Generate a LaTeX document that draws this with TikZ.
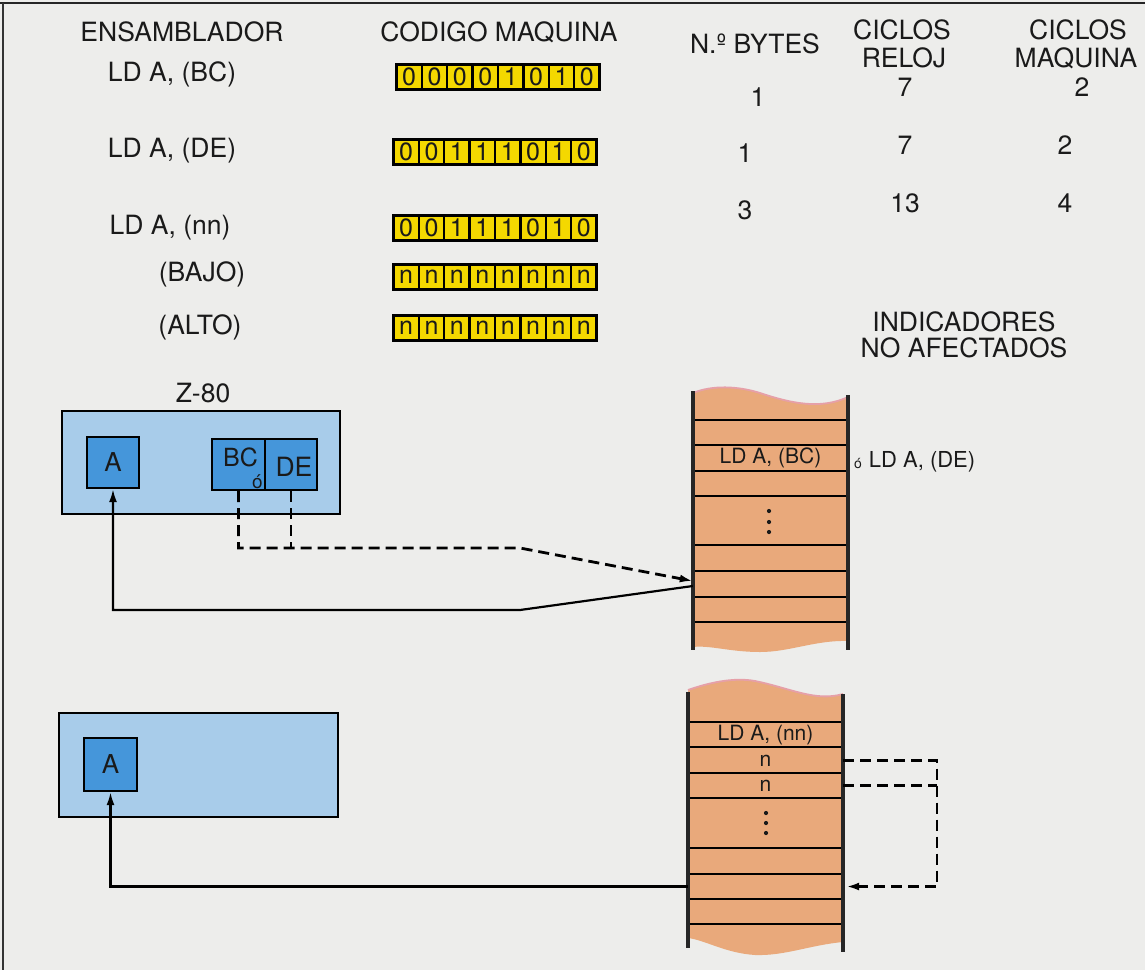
\documentclass[tikz,border=0pt]{standalone}
\usepackage{fontspec}
\setmainfont{TeX Gyre Heros}
\usetikzlibrary{arrows.meta}
\definecolor{pagebg}{HTML}{EDEDEB}
\definecolor{cpublue}{HTML}{A8CCEA}
\definecolor{regblue}{HTML}{4596DA}
\definecolor{memfill}{HTML}{E9A97B}
\definecolor{bityel}{HTML}{F4D800}
\definecolor{pinkedge}{HTML}{E6A0A8}
\definecolor{ink}{HTML}{1A1A1A}
\newcommand\bitrow[4]{%
  \node[bytebox] (#1) at (#2,#3) {};
  \foreach \b [count=\i] in {#4}
    \node[bitcell] (#1-\i) at ({#2-103+14.1+(\i-1)*25.4},#3) {\b};
}
\begin{document}
\begin{tikzpicture}[x=1pt,y=-1pt,
  lbl/.style={font=\fontsize{26.5}{30}\selectfont, inner sep=0, text=ink},
  memtxt/.style={font=\fontsize{21}{25}\selectfont, inner sep=0, text=ink},
  bytebox/.style={rectangle, fill=black, minimum width=206, minimum height=28, inner sep=0},
  bitcell/.style={rectangle, fill=bityel, minimum width=23, minimum height=22.5, inner sep=0, font=\fontsize{25}{26}\selectfont, text=ink},
  cpubox/.style={rectangle, draw=black, line width=2.2, fill=cpublue, inner sep=0},
  regbox/.style={rectangle, draw=black, line width=2.2, fill=regblue, inner sep=0, font=\fontsize{26}{30}\selectfont, text=ink},
  memcell/.style={rectangle, minimum width=155, minimum height=24, inner sep=0, font=\fontsize{21}{25}\selectfont, text=ink},
  memline/.style={line width=2.6, black},
  memside/.style={line width=3.4, black!85},
  conn/.style={line width=2.2, black},
  dconn/.style={line width=2.8, black, dash pattern=on 11pt off 6pt},
  tip/.style={-{Latex[length=13pt,width=8pt]}},
]
\fill[pagebg] (0,0) rectangle (1145,970);
\useasboundingbox (0,0) rectangle (1145,970);
\draw[line width=1.8, black!85] (0,3) -- (1145,3);
\draw[line width=1.5, black!80] (3,3) -- (3,970);

% headers
\node[lbl] (hens) at (182,32) {ENSAMBLADOR};
\node[lbl] (hcod) at (499,32) {CODIGO MAQUINA};
\node[lbl] (hbyt) at (755,44) {N.º BYTES};
\node[lbl] (hcr1) at (902,30) {CICLOS};
\node[lbl] (hcr2) at (904,58) {RELOJ};
\node[lbl] (hcm1) at (1078,30) {CICLOS};
\node[lbl] (hcm2) at (1076,58) {MAQUINA};

% rows
\node[lbl] (r1l) at (172,74) {LD A, (BC)};
\node[lbl] (r2l) at (172,151) {LD A, (DE)};
\node[lbl] (r3l) at (170,228) {LD A, (nn)};
\node[lbl] (r4l) at (202,274) {(BAJO)};
\node[lbl] (r5l) at (200,327) {(ALTO)};

\bitrow{b1}{498}{77}{0,0,0,0,1,0,1,0}
\bitrow{b2}{495}{152}{0,0,1,1,1,0,1,0}
\bitrow{b3}{495}{228}{0,0,1,1,1,0,1,0}
\bitrow{b4}{495}{277}{n,n,n,n,n,n,n,n}
\bitrow{b5}{495}{328}{n,n,n,n,n,n,n,n}

\node[lbl] (v11) at (758,97) {1};
\node[lbl] (v12) at (905,87) {7};
\node[lbl] (v13) at (1082,87) {2};
\node[lbl] (v21) at (745,153) {1};
\node[lbl] (v22) at (905,145) {7};
\node[lbl] (v23) at (1065,145) {2};
\node[lbl] (v31) at (745,210) {3};
\node[lbl] (v32) at (905,203) {13};
\node[lbl] (v33) at (1065,203) {4};

\node[lbl] (ind1) at (964,322) {INDICADORES};
\node[lbl] (ind2) at (964,348) {NO AFECTADOS};

% CPU 1
\node[lbl] (z80) at (203,393) {Z-80};
\node[cpubox, minimum width=278, minimum height=103] (cpu1) at (201,462.5) {};
\node[regbox, minimum width=52, minimum height=51] (A1) at (113,462.5) {A};
\node[regbox, minimum width=53, minimum height=51] (BC) at (238.5,464.5) {};
\node[regbox, minimum width=52, minimum height=51] (DE) at (291,464.5) {};
\node[lbl, font=\fontsize{25}{28}\selectfont] (bct) at (240.5,457) {BC};
\node[lbl, font=\fontsize{19}{22}\selectfont] (bco) at (257.5,482) {ó};
\node[lbl] (det) at (294,467) {DE};

% CPU 2
\node[cpubox, minimum width=279, minimum height=104] (cpu2) at (198.5,765) {};
\node[regbox, minimum width=53, minimum height=53] (A2) at (110.5,764.5) {A};

% memory 1
\fill[memfill] (693,393) .. controls (712,385) and (738,386) .. (760,393)
  .. controls (790,403) and (820,410) .. (848,397) -- (848,641)
  .. controls (815,640) and (790,652) .. (760,652)
  .. controls (730,652) and (710,645) .. (693,647) -- cycle;
\draw[pinkedge, line width=1.8] (693,393) .. controls (712,385) and (738,386) .. (760,393)
  .. controls (790,403) and (820,410) .. (848,397);
\foreach \yy in {420,445,471,496,545,571,597,622}
  \draw[memline] (693,\yy) -- (848,\yy);
\draw[memside] (693,391) -- (693,650);
\draw[memside] (848,395) -- (848,650);
\node[memcell] (m1bc) at (770.5,458) {LD A, (BC)};
\node[memcell] (m1in) at (770.5,584) {};
\foreach \yy in {511,522,532} \fill[ink] (769,\yy) circle (2.1);
\node[lbl, font=\fontsize{14}{16}\selectfont] (m1or) at (858,463) {ó};
\node[memtxt, font=\fontsize{22}{25}\selectfont] (m1de) at (922,462) {LD A, (DE)};

% memory 2
\fill[memfill] (688,690) .. controls (708,683) and (733,677) .. (755,681)
  .. controls (790,688) and (815,702) .. (843,694) -- (843,942)
  .. controls (810,945) and (785,956) .. (755,955)
  .. controls (725,953) and (705,940) .. (688,938) -- cycle;
\draw[pinkedge, line width=1.8] (688,690) .. controls (708,683) and (733,677) .. (755,681)
  .. controls (790,688) and (815,702) .. (843,694);
\foreach \yy in {722,747,773,798,848,874,899,924}
  \draw[memline] (688,\yy) -- (843,\yy);
\draw[memside] (688,692) -- (688,948);
\draw[memside] (843,694) -- (843,952);
\node[memcell] (m2op) at (765.5,735) {LD A, (nn)};
\node[memcell] (m2lo) at (765.5,760.5) {n};
\node[memcell] (m2hi) at (765.5,785.5) {n};
\node[memcell] (m2dat) at (765.5,886.5) {};
\foreach \yy in {813,823,833} \fill[ink] (766,\yy) circle (2.1);

% connectors, CPU 1
\coordinate (dj) at (520,548);
\coordinate (sj) at (520,610);
\draw[dconn, tip] (BC.south) |- (dj) -- ([yshift=3pt]m1in.west);
\draw[dconn] (DE.south) -- (DE.south |- dj);
\draw[conn, tip] ([yshift=-2pt]m1in.west) -- (sj) -| (A1.south);

% connectors, CPU 2
\coordinate (rc) at (937,760);
\draw[dconn, tip] (m2lo.east) -- (m2lo.east -| rc) |- ([xshift=3pt]m2dat.east);
\draw[dconn] (m2hi.east) -- (m2hi.east -| rc);
\draw[conn, tip] (m2dat.west) -| (A2.south);
\end{tikzpicture}
\end{document}
